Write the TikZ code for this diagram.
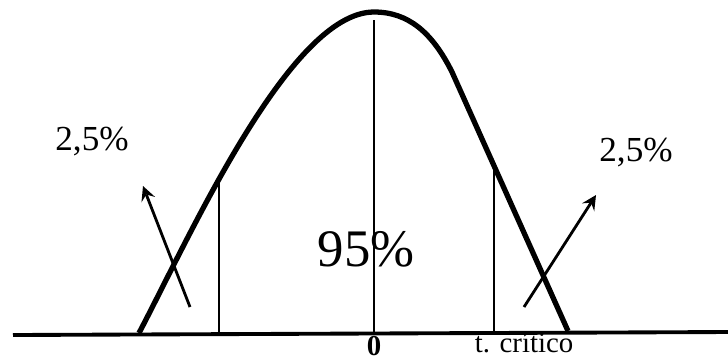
\documentclass[tikz,border=0pt]{standalone}
\usepackage{fontspec}
\setmainfont{Liberation Serif}
\usetikzlibrary{positioning}

\begin{document}
\begin{tikzpicture}[x=0.01cm, y=-0.01cm,
  curve/.style={line width=1.5pt, line join=round},
  axis/.style={line width=1.1pt},
  vline/.style={line width=0.8pt},
  arrow/.style={->, >=stealth, line width=0.8pt},
  pct/.style={font=\fontsize{10}{12}\selectfont, inner sep=0pt},
  tick/.style={font=\fontsize{8.2}{10}\selectfont, inner sep=0pt}
]
\useasboundingbox (0,0) rectangle (728,360);

\draw[axis] (13,335) -- (728,332);

\draw[curve] (139,333) .. controls (190,236) and (290,12) .. (374,12)
  .. controls (408,12) and (432,32) .. (452,72) -- (568,331);

\draw[vline] (374,20) -- (374,334);
\draw[vline] (219,181) -- (219,334);
\draw[vline] (494,166) -- (494,332);

\coordinate (ltail) at (190,307);
\coordinate (lhead) at (143,186);
\coordinate (rtail) at (524,307);
\coordinate (rhead) at (596,195);
\draw[arrow] (ltail) -- (lhead);
\draw[arrow] (rtail) -- (rhead);

\node[pct] (pl) at (92,141) {2,5\%};
\node[pct] (pr) at (636,152) {2,5\%};
\node[font=\fontsize{15}{18}\selectfont, inner sep=0pt] (pc) at (366,249) {95\%};
\node[tick] (zero) at (374,346) {\textbf{0}};
\node[tick] (tc) at (524,343) {t. crítico};

\end{tikzpicture}
\end{document}
